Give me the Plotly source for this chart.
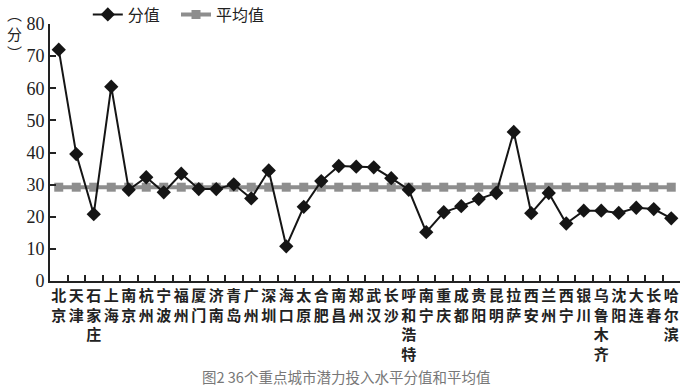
import plotly.graph_objects as go

cities = ["北京", "天津", "石家庄", "上海", "南京", "杭州", "宁波", "福州", "厦门", "济南",
          "青岛", "广州", "深圳", "海口", "太原", "合肥", "南昌", "郑州", "武汉", "长沙",
          "呼和浩特", "南宁", "重庆", "成都", "贵阳", "昆明", "拉萨", "西安", "兰州", "西宁",
          "银川", "乌鲁木齐", "沈阳", "大连", "长春", "哈尔滨"]
scores = [72.0, 39.5, 20.8, 60.5, 28.4, 32.3, 27.6, 33.4, 28.6, 28.6,
          30.1, 25.7, 34.4, 10.8, 23.1, 31.1, 35.8, 35.6, 35.4, 32.0,
          28.4, 15.2, 21.4, 23.3, 25.5, 27.4, 46.4, 21.1, 27.4, 17.9,
          21.9, 21.9, 21.2, 22.8, 22.4, 19.5]
avg_values = [29.2] * 36

tick_text = ["<br>".join(list(c)) for c in cities]

fig = go.Figure()
fig.add_trace(go.Scatter(
    x=cities, y=avg_values, name="平均值", mode="lines+markers",
    line=dict(color="#8e8e8e", width=4),
    marker=dict(symbol="square", size=9, color="#8e8e8e"),
))
fig.add_trace(go.Scatter(
    x=cities, y=scores, name="分值\u2002\u2009", mode="lines+markers",
    line=dict(color="#151515", width=2),
    marker=dict(symbol="diamond", size=11, color="#151515"),
))

fig.update_layout(
    width=689, height=391,
    margin=dict(l=50, r=9, t=24, b=110, autoexpand=False),
    paper_bgcolor="white", plot_bgcolor="white",
    showlegend=True,
    legend=dict(orientation="h", x=0.06, xanchor="left", y=1.037, yanchor="middle",
                traceorder="reversed",
                font=dict(family="Noto Sans CJK SC", size=16, color="#222"),
                bgcolor="rgba(0,0,0,0)"),
    xaxis=dict(
        type="category", tickmode="array", tickvals=cities, ticktext=tick_text,
        range=[-0.5, 35.5], showgrid=False, zeroline=False, automargin=False,
        showline=True, linecolor="#222", linewidth=2,
        ticks="inside", tickson="boundaries", ticklen=6, tickcolor="#222", tickwidth=1.5,
        tickangle=0,
        tickfont=dict(family="Noto Sans CJK SC", size=15, color="#222", weight="bold"),
    ),
    yaxis=dict(
        range=[0, 80], dtick=10, showgrid=False, zeroline=False, automargin=False,
        showline=True, linecolor="#222", linewidth=2,
        ticks="inside", ticklen=6, tickcolor="#222", tickwidth=1.5,
        tickfont=dict(family="Liberation Serif, DejaVu Serif, serif", size=18, color="#222"),
    ),
    annotations=[
        dict(text="︵<br>分<br>︶", x=-0.057, y=0.965, xref="paper", yref="paper",
             showarrow=False, xanchor="center", yanchor="middle",
             font=dict(family="Noto Sans CJK SC", size=15, color="#222")),
        dict(text="图2 36个重点城市潜力投入水平分值和平均值", x=0.47, y=-0.37,
             xref="paper", yref="paper", showarrow=False, xanchor="center", yanchor="middle",
             font=dict(family="Noto Sans CJK SC", size=14.5, color="#777")),
    ],
)

fig.write_html("out.html", config={"displayModeBar": False},
               post_script="document.body.style.margin='0';")
